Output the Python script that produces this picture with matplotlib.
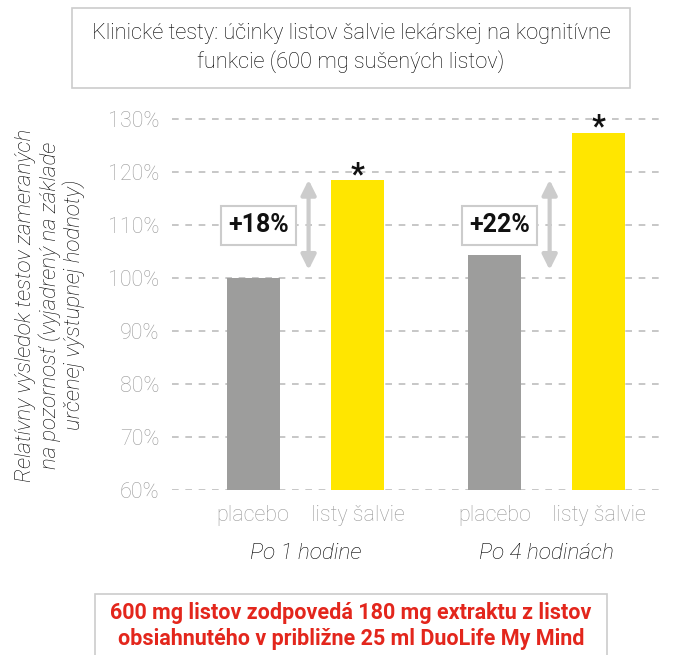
import matplotlib
matplotlib.use("Agg")
from matplotlib import pyplot as plt
from matplotlib.patches import Rectangle
from matplotlib.transforms import blended_transform_factory
import numpy as np

plt.rcParams['font.family'] = ['Roboto', 'DejaVu Sans']

# data
groups = ["Po 1 hodine", "Po 4 hodinách"]
categories = ["placebo", "listy šalvie"]
placebo = [100.0, 104.3]
sage = [118.5, 127.4]
increase_labels = ["+18%", "+22%"]
yticks = [60, 70, 80, 90, 100, 110, 120, 130]

title = "Klinické testy: účinky listov šalvie lekárskej na kognitívne\nfunkcie (600 mg sušených listov)"
ylabel = "Relatívny výsledok testov zameraných\nna pozornosť (vyjadrený na základe\nurčenej výstupnej hodnoty)"
footnote = "600 mg listov zodpovedá 180 mg extraktu z listov\nobsiahnutého v približne 25 ml DuoLife My Mind"

W, H = 678, 655
fig = plt.figure(figsize=(W / 100, H / 100), dpi=100)
ax = fig.add_axes([172 / W, 1 - 490 / H, (665 - 172) / W, (490 - 105) / H])

gap = 2.305
x_pl = np.array([0, gap])
x_sg = x_pl + 1
width = 0.505

ax.bar(x_pl, np.array(placebo) - 60, bottom=60, width=width, color='#9d9d9c', zorder=3)
ax.bar(x_sg, np.array(sage) - 60, bottom=60, width=width, color='#ffe600', zorder=3)

ax.set_xlim(-0.776, 3.938)
ax.set_ylim(60, 132.6)
ax.set_yticks(yticks)
ax.set_yticklabels([f"{v}%" for v in yticks], fontsize=15.5, fontweight='light')
for v in yticks:
    ax.axhline(v, color='#bdbdbd', lw=1.2, ls=(0, (4, 4)), zorder=1)

xt = np.concatenate([[x_pl[0], x_sg[0]], [x_pl[1], x_sg[1]]])
ax.set_xticks(xt)
ax.set_xticklabels(categories * 2, fontsize=15.5, fontweight='light')
ax.tick_params(axis='both', length=0, labelcolor='#9a9a9a')
ax.tick_params(axis='x', pad=11)
ax.tick_params(axis='y', pad=9)
for s in ax.spines.values():
    s.set_visible(False)

trans = blended_transform_factory(ax.transData, ax.transAxes)
for i, g in enumerate(groups):
    ax.text((x_pl[i] + x_sg[i]) / 2, -0.165, g, transform=trans, ha='center', va='center',
            fontsize=16.2, style='italic', fontweight='light', color='#000000')

# arrows and increase labels
for i in range(len(groups)):
    ax.annotate('', xy=(x_pl[i] + 0.53, sage[0]), xytext=(x_pl[i] + 0.53, placebo[0] + 1.5),
                arrowprops=dict(arrowstyle='<|-|>', color='#cccccc', lw=3,
                                mutation_scale=22, shrinkA=0, shrinkB=0), zorder=4)
    ax.text(x_pl[i] + 0.05, 109.9, increase_labels[i], ha='center', va='center',
            fontsize=18, fontweight='bold', color='#111111', zorder=5,
            bbox=dict(boxstyle='square,pad=0.3', fc='white', ec='#cccccc', lw=1.5))
    ax.text(x_sg[i], sage[i] - 0.6, '*', ha='center', va='baseline', fontsize=22,
            fontweight='bold', color='#111111', zorder=5)

fig.text(50 / W, 1 - 305 / H, ylabel, rotation=90, ha='center', va='center',
         fontsize=16, style='italic', fontweight='light', color='#000000',
         linespacing=1.1)

# title box
fig.patches.append(Rectangle((72 / W, 1 - 88 / H), (630 - 72) / W, 80 / H,
                             transform=fig.transFigure, fill=False, ec='#cccccc', lw=1.2))
fig.text(351 / W, 1 - 48 / H, title, ha='center', va='center', fontsize=15.7,
         fontweight='light', color='#000000', linespacing=1.3)

# footnote box
fig.patches.append(Rectangle((95 / W, -0.01), (607 - 95) / W, 0.01 + 61 / H,
                             transform=fig.transFigure, fill=False, ec='#cccccc', lw=1.2))
fig.text(351 / W, 1 - 626 / H, footnote, ha='center', va='center', fontsize=15.5,
         fontweight='bold', color='#e3261c', linespacing=1.25)

fig.savefig("out.png", dpi=100)
